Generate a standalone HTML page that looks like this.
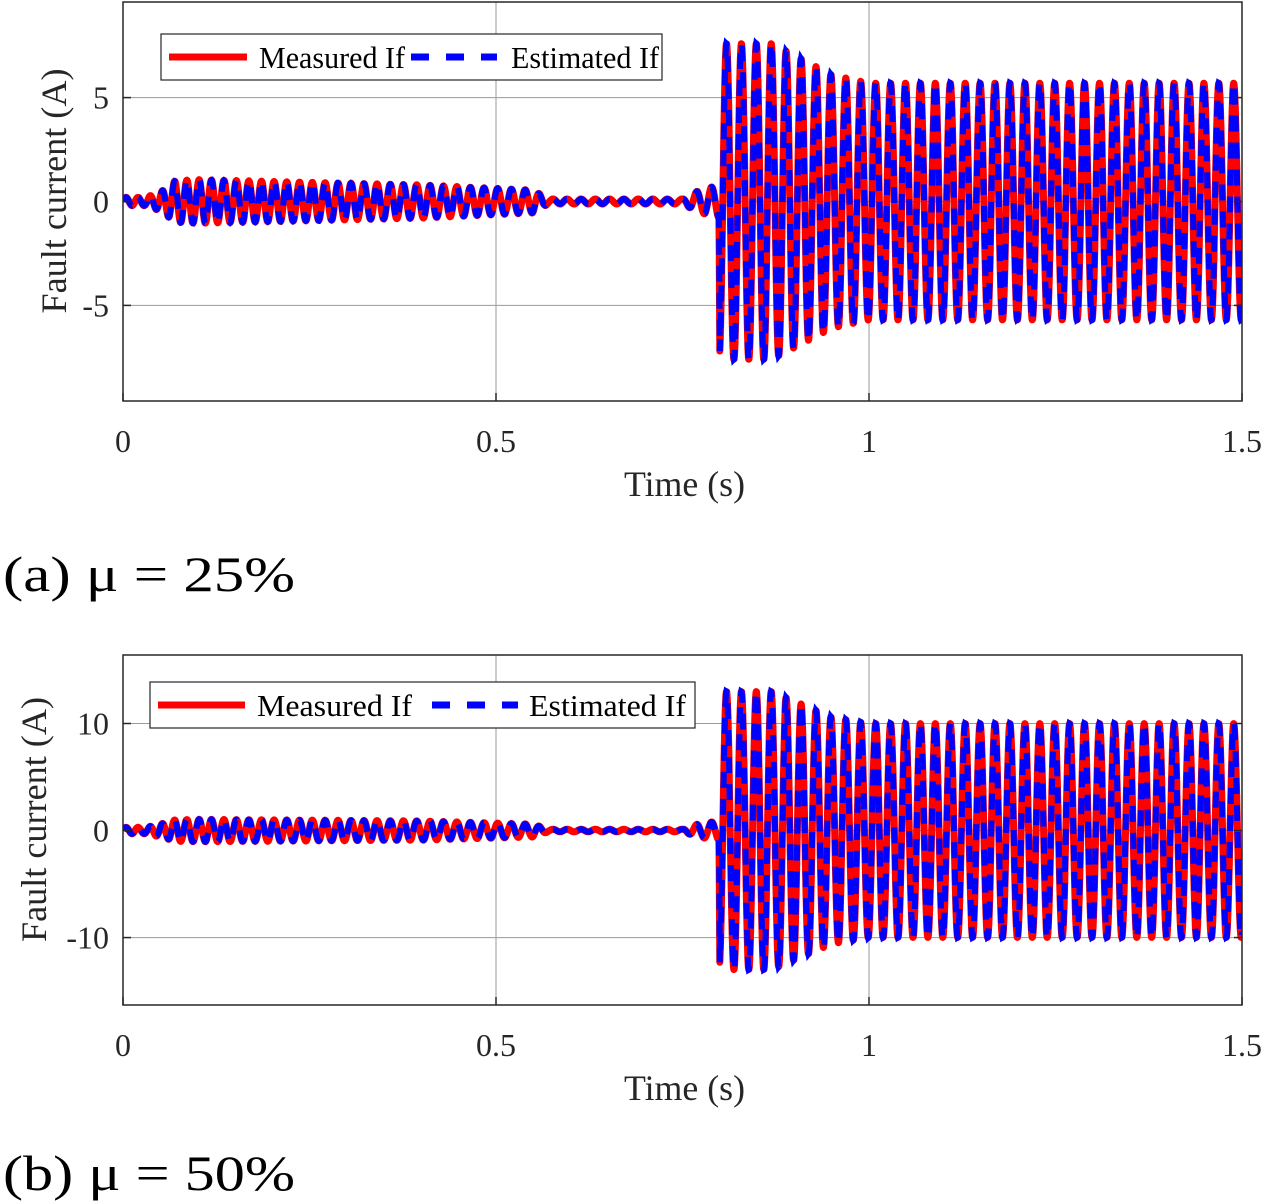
<!DOCTYPE html>
<html><head><meta charset="utf-8">
<style>
html,body{margin:0;padding:0;background:#fff;}
svg{display:block;font-family:"Liberation Serif",serif;}
</style></head>
<body>
<svg id="fig" width="1262" height="1202" viewBox="0 0 1262 1202" xmlns="http://www.w3.org/2000/svg"></svg>
<script>
// ---- data ----
const envTimes = [0, 0.03, 0.05, 0.07, 0.1, 0.4, 0.55, 0.57, 0.75, 0.77, 0.799, 0.8, 0.87, 0.95, 1.0, 1.5];
const envAmpA  = [0.2, 0.2, 0.45, 1.0, 1.05, 0.8, 0.55, 0.12, 0.12, 0.5, 0.8, 7.6, 7.6, 6.1, 5.7, 5.7];
const envAmpB  = [0.3, 0.3, 0.6, 1.0, 1.05, 0.9, 0.6, 0.12, 0.12, 0.6, 0.9, 13.0, 13.0, 10.6, 10.0, 10.0];
const freqTimes = [0, 0.8, 1.5];
const freqValues = [62, 50, 50];
const xTicks = [0, 0.5, 1, 1.5];
const xTickLabels = ["0", "0.5", "1", "1.5"];
const yTicksA = [-5, 0, 5];
const yTickLabelsA = ["-5", "0", "5"];
const yTicksB = [-10, 0, 10];
const yTickLabelsB = ["-10", "0", "10"];

const NS = "http://www.w3.org/2000/svg";
const fig = document.getElementById('fig');
function mk(tag, attrs, parent){const e=document.createElementNS(NS,tag);for(const k in attrs)e.setAttribute(k,attrs[k]);(parent||fig).appendChild(e);return e;}
function interp(ts, vs, t){for(let i=0;i<ts.length-1;i++){if(t<ts[i+1]){return vs[i]+(vs[i+1]-vs[i])*(t-ts[i])/(ts[i+1]-ts[i]);}}return vs[vs.length-1];}

function panel(cfg){
  const {L,R,T,B,ymin,ymax,amp,yTicks,yLabels,name,leg,ylabX,caption,capY} = cfg;
  const g = mk('g',{});
  
  
  const xs = t => L + (t-0)/(1.5-0)*(R-L);
  const ys = v => B - (v-ymin)/(ymax-ymin)*(B-T);
  xTicks.forEach(t=>{ if(t>0&&t<1.5){const l=mk('line',{x1:xs(t),x2:xs(t),y1:T,y2:B,stroke:'#9a9a9a','stroke-width':1},g);}});
  yTicks.forEach(v=>{const l=mk('line',{x1:L,x2:R,y1:ys(v),y2:ys(v),stroke:'#9a9a9a','stroke-width':1},g);});
  let pts=[], ph=0, dt=0.0004;
  for(let t=0;t<=1.5+1e-9;t+=dt){const a=interp(envTimes,amp,t);pts.push(xs(t).toFixed(1)+','+ys(a*Math.sin(ph)).toFixed(1));ph+=2*Math.PI*interp(freqTimes,freqValues,t)*dt;}
  const clip = mk('clipPath',{id:'clip-'+name},g);
  mk('rect',{x:L,y:T,width:R-L,height:B-T},clip);
  const meas = mk('polyline',{points:pts.join(' '),fill:'none',stroke:'#ff0000','stroke-width':7,'stroke-linejoin':'round','clip-path':'url(#clip-'+name+')'},g);
  
  
  const est = mk('polyline',{points:pts.join(' '),fill:'none',stroke:'#0000ff','stroke-width':6,'stroke-dasharray':'16 11','clip-path':'url(#clip-'+name+')'},g);
  
  
  const box = mk('rect',{x:L,y:T,width:R-L,height:B-T,fill:'none',stroke:'#262626','stroke-width':1.5},g);
  
  
  xTicks.forEach((t,i)=>{mk('line',{x1:xs(t),x2:xs(t),y1:B,y2:B-8,stroke:'#262626','stroke-width':1.5},g);
    const tx=mk('text',{x:xs(t),y:B+51,'font-size':32,'text-anchor':'middle',fill:'#262626'},g);tx.textContent=xTickLabels[i];
    });
  yTicks.forEach((v,i)=>{mk('line',{x1:L,x2:L+8,y1:ys(v),y2:ys(v),stroke:'#262626','stroke-width':1.5},g);mk('line',{x1:R,x2:R-8,y1:ys(v),y2:ys(v),stroke:'#262626','stroke-width':1.5},g);
    const tx=mk('text',{x:L-14,y:ys(v)+11,'font-size':32,'text-anchor':'end',fill:'#262626'},g);tx.textContent=yLabels[i];
    });
  const xl=mk('text',{x:(L+R)/2-121/2+2,y:B+95,'font-size':36,textLength:121,lengthAdjust:'spacingAndGlyphs',fill:'#262626'},g);xl.textContent='Time (s)';
  
  const cyT=(T+B)/2-10;
  const yl=mk('text',{x:ylabX,y:cyT+122,'font-size':36,textLength:245,lengthAdjust:'spacingAndGlyphs',fill:'#262626',transform:'rotate(-90 '+ylabX+' '+(cyT+122)+')'},g);yl.textContent='Fault current (A)';
  
  const lg=mk('g',{},g);
  
  
  mk('rect',{x:leg.x,y:leg.y,width:leg.w,height:46,fill:'#fff',stroke:'#262626','stroke-width':1.2},lg);
  const cy=leg.y+23;
  mk('line',{x1:leg.x+8,x2:leg.x+leg.rEnd,y1:cy,y2:cy,stroke:'#ff0000','stroke-width':7},lg);
  const t1=mk('text',{x:leg.x+leg.t1,y:cy+11,'font-size':31,textLength:leg.w1,lengthAdjust:'spacingAndGlyphs',fill:'#000'},lg);t1.textContent='Measured If';
  
  const bx=leg.x+leg.bOff;
  mk('line',{x1:bx,x2:bx+86,y1:cy,y2:cy,stroke:'#0000ff','stroke-width':7,'stroke-dasharray':'18 17'},lg);
  const t2=mk('text',{x:bx+leg.t2,y:cy+11,'font-size':31,textLength:leg.w2,lengthAdjust:'spacingAndGlyphs',fill:'#000'},lg);t2.textContent='Estimated If';
  
  const cp=mk('text',{x:3,y:capY,'font-size':50,textLength:292,lengthAdjust:'spacingAndGlyphs',fill:'#000','xml:space':'preserve'},g);cp.textContent=caption;
  
}
panel({L:123,R:1242,T:2,B:401,ymin:-9.6,ymax:9.6,amp:envAmpA,yTicks:yTicksA,yLabels:yTickLabelsA,name:'panel-a',
  leg:{x:161,y:34,w:501,rEnd:86,t1:98,w1:146,bOff:250,t2:100,w2:148},ylabX:66,caption:'(a)  \u03bc = 25%',capY:591});
panel({L:123,R:1242,T:655,B:1005,ymin:-16.3,ymax:16.4,amp:envAmpB,yTicks:yTicksB,yLabels:yTickLabelsB,name:'panel-b',
  leg:{x:150,y:682,w:545,rEnd:95,t1:107,w1:155,bOff:282,t2:97,w2:157},ylabX:46,caption:'(b)  \u03bc = 50%',capY:1190});
</script>
</body></html>
